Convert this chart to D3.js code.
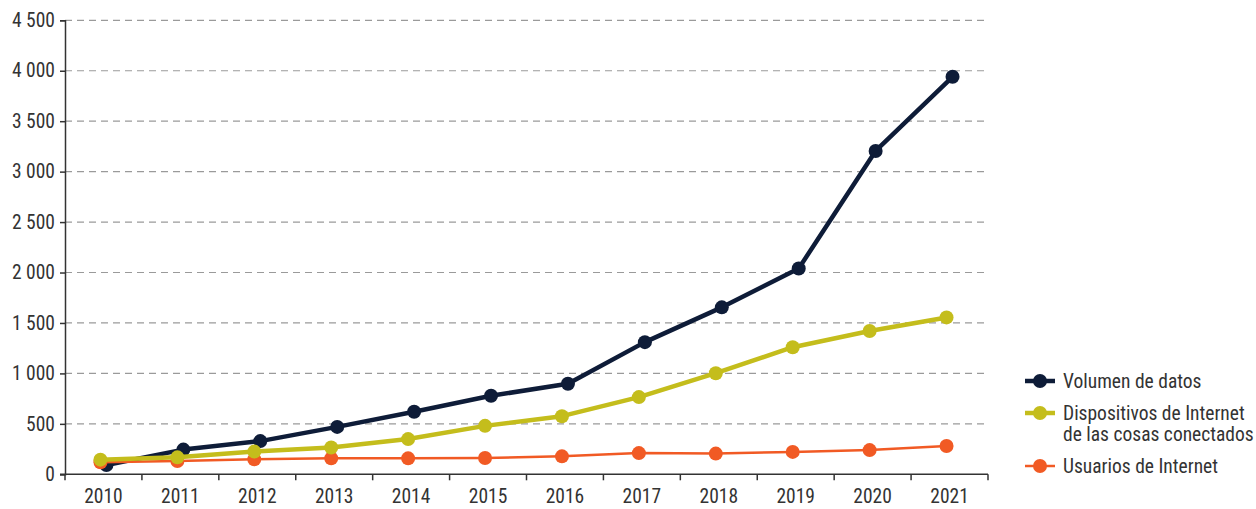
<!DOCTYPE html>
<html>
<head>
<meta charset="utf-8">
<script src="https://cdn.jsdelivr.net/npm/d3@7"></script>
<style>
body { margin:0; background:#fff; }
svg text { font-family: "Liberation Sans Narrow", "Roboto Condensed", Roboto, sans-serif; fill:#333; }
</style>
</head>
<body>
<svg></svg>
<script>
var years = [2010,2011,2012,2013,2014,2015,2016,2017,2018,2019,2020,2021]
var volumen = [92,245,329,470,620,778,898,1310,1655,2040,3205,3940]
var dispositivos = [145,168,225,265,349,480,576,765,1002,1260,1420,1555]
var usuarios = [120,132,148,158,158,162,178,210,205,222,240,280]
var yTicks = [0,500,1000,1500,2000,2500,3000,3500,4000,4500]
var seriesNames = ["Volumen de datos","Dispositivos de Internet\nde las cosas conectados","Usuarios de Internet"]

var series = [
    {name:seriesNames[0], values:volumen, color:"#0e1c38", width:4.5, shift:3},
    {name:seriesNames[1], values:dispositivos, color:"#c4bd1c", width:4.5, shift:-3},
    {name:seriesNames[2], values:usuarios, color:"#f15a24", width:2.5, shift:-3}
]

var width = 1256
var height = 509
var svg = d3.select('svg').attr("width", width).attr("height", height)

var mLeft = 65, mRight = 988, mTop = 20.3, mBottom = 474.3

var xScale = d3.scaleBand().domain(years).range([mLeft, mRight])
var yScale = d3.scaleLinear().domain([0,4500]).range([mBottom, mTop])
var fmt = d3.formatLocale({decimal:",", thousands:" ", grouping:[3], currency:["",""]}).format(",")

// grid
svg.append("g").selectAll("line")
    .data(yTicks.filter(d=>d>0))
    .join("line")
    .attr("x1", mLeft).attr("x2", mRight)
    .attr("y1", d=>yScale(d)).attr("y2", d=>yScale(d))
    .attr("stroke", "#9a9a9a").attr("stroke-width", 1.2)
    .attr("stroke-dasharray", "7,5")

// y axis
var yAxis = d3.axisLeft(yScale).tickValues(yTicks).tickSize(5).tickPadding(5).tickFormat(fmt)
var gy = svg.append("g").attr("transform", `translate(${mLeft},0)`).call(yAxis)
gy.select(".domain").attr("stroke", "#333").attr("stroke-width", 1.5)
gy.selectAll(".tick line").attr("stroke", "#333").attr("stroke-width", 1.5)
gy.selectAll("text").style("font-size", "19.5px").attr("fill", "#333")

// x axis
var gx = svg.append("g").attr("transform", `translate(0,${mBottom})`)
gx.append("line").attr("x1", mLeft-5).attr("x2", mRight).attr("stroke", "#333").attr("stroke-width", 1.5)
gx.selectAll(".tk").data(years.concat(["end"]))
    .join("line").attr("class","tk")
    .attr("x1", (d,i)=> mLeft + i*xScale.bandwidth())
    .attr("x2", (d,i)=> mLeft + i*xScale.bandwidth())
    .attr("y1", 0).attr("y2", 6)
    .attr("stroke", "#333").attr("stroke-width", 1.5)
gx.selectAll("text").data(years).join("text")
    .attr("x", d=>xScale(d)+xScale.bandwidth()/2)
    .attr("y", 29)
    .attr("text-anchor", "middle")
    .style("font-size", "19.5px")
    .text(d=>d)

// lines: dark, orange, then yellow on top
var drawOrder = [series[0], series[2], series[1]]
drawOrder.forEach(function(s){
    var line = d3.line()
        .x((d,i)=> xScale(years[i]) + xScale.bandwidth()/2 + s.shift)
        .y(d=> yScale(d))
    svg.append("path").datum(s.values)
        .attr("d", line)
        .attr("fill", "none")
        .attr("stroke", s.color)
        .attr("stroke-width", s.width)
        .attr("stroke-linejoin", "round")
    svg.append("g").selectAll("circle").data(s.values).join("circle")
        .attr("cx", (d,i)=> xScale(years[i]) + xScale.bandwidth()/2 + s.shift)
        .attr("cy", d=> yScale(d))
        .attr("r", 7)
        .attr("fill", s.color)
})

// legend
var legend = [
    {s:series[0], y:381},
    {s:series[1], y:413},
    {s:series[2], y:466}
]
var lg = svg.append("g")
legend.forEach(function(l){
    var g = lg.append("g").attr("transform", `translate(1025,${l.y})`)
    g.append("line").attr("x1",0).attr("x2",30).attr("y1",0).attr("y2",0)
        .attr("stroke", l.s.color).attr("stroke-width", l.s.width)
    g.append("circle").attr("cx",15).attr("cy",0).attr("r",7).attr("fill", l.s.color)
    var t = g.append("text").attr("x", 38).attr("y", 7).style("font-size","19.5px")
    l.s.name.split("\n").forEach(function(line,i){
        t.append("tspan").attr("x",38).attr("dy", i==0?0:21).text(line)
    })
})
</script>
</body>
</html>
